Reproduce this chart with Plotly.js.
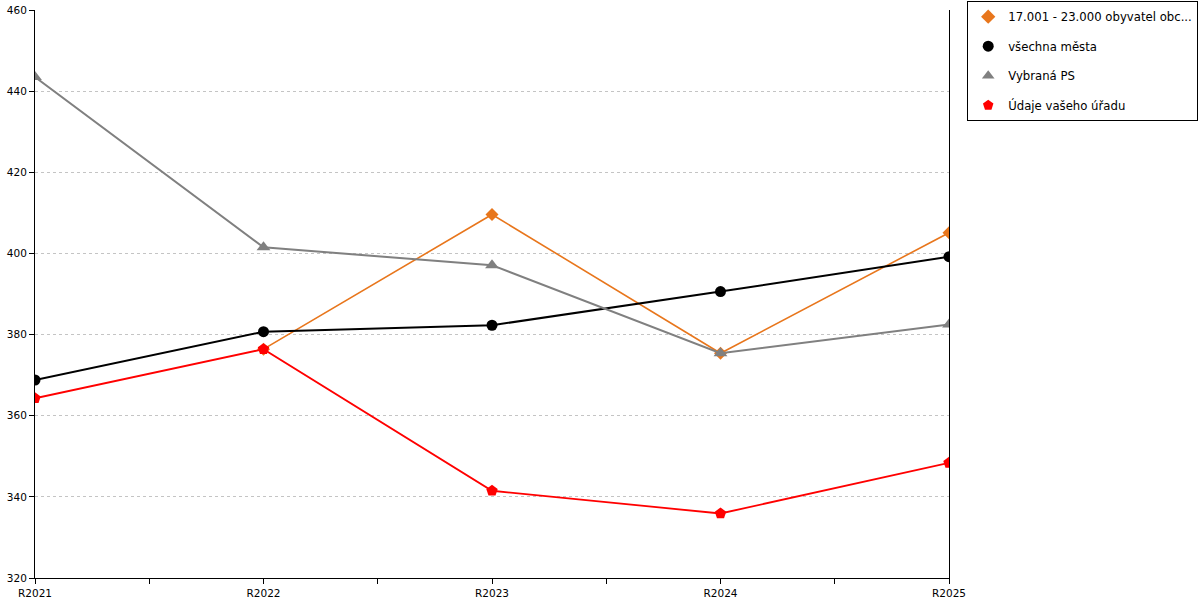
<!DOCTYPE html>
<html>
<head>
<meta charset="utf-8">
<script src="https://cdn.plot.ly/plotly-3.0.1.min.js"></script>
<style>
  body { margin: 0; background: #fff; }
  #chart { width: 1200px; height: 600px; }
</style>
</head>
<body>
<div id="chart"></div>
<script>
// categories on the x axis
const years = ["R2021", "R2022", "R2023", "R2024", "R2025"];

// series values
const obyvatel = [null, 376.4, 409.6, 375.4, 405.1];   // 17.001 - 23.000 obyvatel obc...
const vsechnaMesta = [368.8, 380.7, 382.3, 390.6, 399.2];
const vybranaPS = [443.5, 401.5, 397.1, 375.4, 382.5];
const udajeUradu = [364.3, 376.4, 341.5, 335.9, 348.4];

const yTicks = [320, 340, 360, 380, 400, 420, 440, 460];

const xIdx = years.map((y, i) => i);
const FONT = "DejaVu Sans, Verdana, sans-serif";

function series(name, vals, color, symbol, width, size, group) {
  return [{
    x: xIdx, y: vals, name: name, type: "scatter", mode: "lines+markers",
    line: { color: color, width: width },
    marker: { color: color, symbol: symbol, size: size },
    showlegend: false, legendgroup: group, hoverinfo: "x+y+name"
  }, {
    // marker-only entry so the legend shows just the symbol
    x: [null], y: [null], name: name, type: "scatter", mode: "markers",
    marker: { color: color, symbol: symbol, size: 11 },
    legendgroup: group, showlegend: true
  }];
}

var data = [].concat(
  series("17.001 - 23.000 obyvatel obc...", obyvatel, "#E8761C", "diamond", 1.6, 10, "a"),
  series("všechna města", vsechnaMesta, "#000000", "circle", 2, 11, "b"),
  series("Vybraná PS", vybranaPS, "#808080", "triangle-up", 2, 12, "c"),
  series("Údaje vašeho úřadu", udajeUradu, "#FF0000", "pentagon", 1.8, 12, "d")
);

var layout = {
  width: 1200, height: 600,
  margin: { l: 35, r: 251, t: 10, b: 22 },
  paper_bgcolor: "#fff", plot_bgcolor: "#fff",
  font: { family: FONT, size: 10.5, color: "#000" },
  xaxis: {
    range: [0, years.length - 1],
    tickmode: "array", tickvals: xIdx, ticktext: years,
    ticks: "outside", ticklen: 5, tickcolor: "#000",
    minor: { dtick: 0.5, tick0: 0, ticks: "outside", ticklen: 5, tickcolor: "#000", showgrid: false },
    showline: true, linecolor: "#000", linewidth: 1,
    showgrid: false, zeroline: false, fixedrange: true
  },
  yaxis: {
    range: [320, 460],
    tickmode: "array", tickvals: yTicks,
    ticks: "outside", ticklen: 5, tickcolor: "#000",
    showline: true, linecolor: "#000", linewidth: 1, mirror: true,
    showgrid: true, gridcolor: "#c4c4c4", griddash: "dot", gridwidth: 1,
    zeroline: false, fixedrange: true
  },
  legend: {
    xref: "container", yref: "container",
    x: 0.806, y: 0.998, xanchor: "left", yanchor: "top",
    bordercolor: "#000", borderwidth: 1, bgcolor: "#fff",
    font: { family: FONT, size: 11.7, color: "#000" },
    tracegroupgap: 10.5, itemwidth: 30
  },
  showlegend: true
};

Plotly.newPlot("chart", data, layout, { displayModeBar: false, staticPlot: true });
</script>
</body>
</html>
